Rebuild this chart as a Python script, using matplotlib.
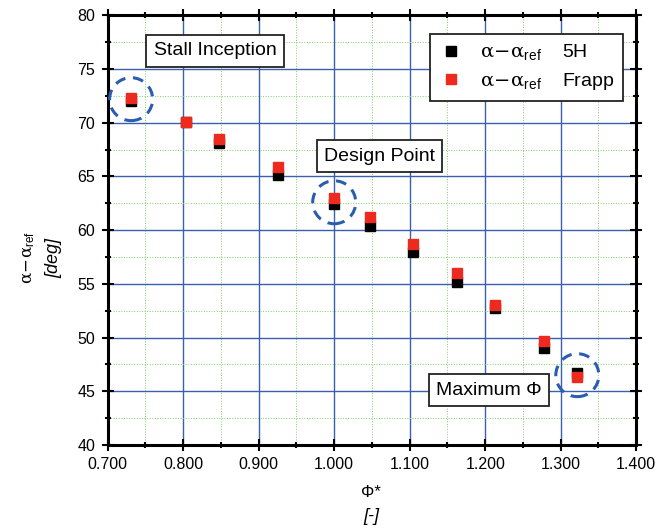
import matplotlib
matplotlib.use("Agg")
import matplotlib.pyplot as plt
from matplotlib.patches import Ellipse
from matplotlib.ticker import MultipleLocator, FormatStrFormatter

plt.rcParams['font.family'] = ['Liberation Sans', 'DejaVu Sans']
plt.rcParams['mathtext.fontset'] = 'custom'
plt.rcParams['mathtext.rm'] = 'DejaVu Serif'
plt.rcParams['mathtext.it'] = 'DejaVu Serif'
plt.rcParams['mathtext.sf'] = 'Liberation Sans'

phi = [0.731, 0.804, 0.848, 0.925, 1.000, 1.047, 1.105, 1.163, 1.213, 1.278, 1.322]
alpha_5h = [72.0, 70.1, 68.15, 65.15, 62.4, 60.35, 58.0, 55.2, 52.8, 49.0, 46.7]
alpha_frapp = [72.3, 70.05, 68.5, 65.85, 63.0, 61.2, 58.7, 56.0, 53.05, 49.7, 46.3]

circled = [(0.731, 72.2), (1.0, 62.6), (1.322, 46.5)]
annotations = [("Stall Inception", 0.842, 76.7), ("Design Point", 1.060, 66.9), ("Maximum \u03a6", 1.205, 45.1)]

alpha_sym = r'$\alpha\!-\!\alpha_{\mathsf{ref}}$'

fig = plt.figure(figsize=(6.69, 5.31), dpi=100)
ax = fig.add_axes([0.161, 0.162, 0.790, 0.809])

ax.set_xlim(0.7, 1.4)
ax.set_ylim(40, 80)
ax.xaxis.set_major_locator(MultipleLocator(0.1))
ax.xaxis.set_minor_locator(MultipleLocator(0.05))
ax.yaxis.set_major_locator(MultipleLocator(5))
ax.yaxis.set_minor_locator(MultipleLocator(2.5))
ax.xaxis.set_major_formatter(FormatStrFormatter('%.3f'))

ax.grid(which='major', color='#3a5fb0', linewidth=1.0, zorder=0)
ax.grid(which='minor', color='#7fcf6a', linewidth=0.7, linestyle=':', zorder=0)
ax.set_axisbelow(True)

for s in ax.spines.values():
    s.set_linewidth(2.2)
ax.tick_params(which='both', direction='inout', top=True, right=True, width=1.5, labelsize=11.5)
ax.tick_params(which='major', length=8, pad=5)
ax.tick_params(which='minor', length=5)

l1, = ax.plot(phi, alpha_5h, 's', color='black', markersize=7.3, zorder=3,
              label=alpha_sym + '    5H')
l2, = ax.plot(phi, alpha_frapp, 's', color='#ee2a1e', markersize=7.3, zorder=4,
              label=alpha_sym + '    Frapp')

for (cx, cy) in circled:
    e = Ellipse((cx, cy), 0.057, 4.0, fill=False, edgecolor='#2a5db0', linewidth=2.2,
                linestyle=(0, (3.5, 2.5)), zorder=5)
    ax.add_patch(e)

for (t, x, y) in annotations:
    ax.text(x, y, t, fontsize=14, ha='center', va='center', zorder=6,
            bbox=dict(boxstyle='square,pad=0.38', facecolor='white', edgecolor='#222222', linewidth=1.3))

leg = ax.legend(handles=[l1, l2], loc='upper right', fontsize=14, frameon=True, fancybox=False,
                edgecolor='#222222', framealpha=1, handletextpad=0.9, borderpad=0.45,
                handlelength=1.2, labelspacing=0.45, bbox_to_anchor=(0.993, 0.98))
leg.get_frame().set_linewidth(1.3)

ax.set_xlabel('')
ax.set_ylabel('')
fig.text(0.555, 0.073, '\u03a6*', fontsize=12, ha='center', va='center')
fig.text(0.555, 0.028, '[-]', fontsize=13, ha='center', va='center', style='italic')
fig.text(0.044, 0.515, alpha_sym, fontsize=12, ha='center', va='center', rotation=90)
fig.text(0.081, 0.515, '[deg]', fontsize=13, ha='center', va='center', rotation=90, style='italic')

fig.savefig('out.png', dpi=100)
